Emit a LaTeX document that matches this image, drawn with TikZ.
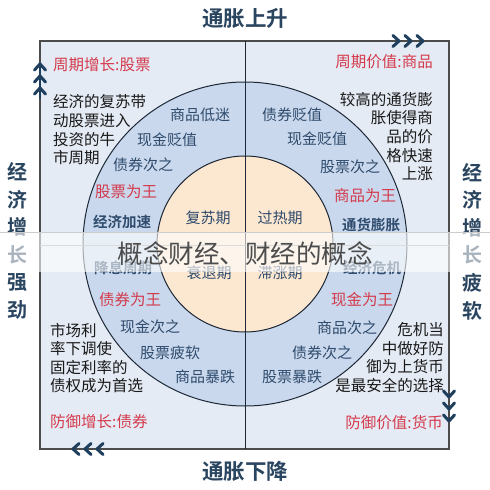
\documentclass[tikz,border=0pt]{standalone}
\usepackage{fontspec}
\setmainfont{Noto Sans CJK SC}[BoldFont={Noto Sans CJK SC Bold}]
\definecolor{framebg}{HTML}{E5EBF4}
\definecolor{ringbg}{HTML}{C9D8EC}
\definecolor{corebg}{HTML}{FCE7D0}
\definecolor{darkline}{HTML}{1C2836}
\definecolor{redtxt}{HTML}{D43A4C}
\definecolor{bluetxt}{HTML}{2F4B6D}
\definecolor{titletxt}{HTML}{2A4560}
\definecolor{chev}{HTML}{1F3F5E}
\tikzset{
  ringtxt/.style={inner sep=0pt, text=bluetxt, font=\fontsize{15}{16}\selectfont},
  boldtxt/.style={inner sep=0pt, text=bluetxt, font=\bfseries\fontsize{14.5}{16}\selectfont},
  redlbl/.style={inner sep=0pt, text=redtxt, font=\fontsize{15.5}{16}\selectfont},
  bodytxt/.style={inner sep=0pt, text=black!90, font=\fontsize{15.5}{18.6}\selectfont},
  titlelbl/.style={inner sep=0pt, text=titletxt, font=\bfseries\fontsize{21.5}{22}\selectfont},
  sidelbl/.style={inner sep=0pt, text=titletxt, align=center, font=\bfseries\fontsize{20}{27.6}\selectfont},
  chevline/.style={draw=chev, line width=3pt, line cap=round, line join=round},
}
\begin{document}
\begin{tikzpicture}[x=1pt,y=-1pt]
\useasboundingbox (0,0) rectangle (490,490);
\fill[white] (0,0) rectangle (490,490);
% frame
\draw[fill=framebg, draw=black!70, line width=1.2pt] (40,41) rectangle (449,449);
% circles
\coordinate (c) at (245,244);
\fill[ringbg] (c) circle[radius=162];
\fill[corebg] (c) circle[radius=88];
\draw[darkline, line width=1pt] (c) circle[radius=162];
\draw[darkline, line width=1pt] (c) circle[radius=88];
% dividers
\coordinate (vt) at (245,41);
\coordinate (vb) at (245,449);
\coordinate (hl) at (40,245);
\coordinate (hr) at (449,245);
\draw[darkline, line width=0.9pt] (vt) -- (vb);
\draw[black!35, line width=0.6pt] (hl) -- (hr);

% titles
\node[titlelbl] (top) at (245,18) {通胀上升};
\node[titlelbl] (bot) at (245,471) {通胀下降};
\node[sidelbl] (left) at (17,241) {经\\济\\增\\长\\强\\劲};
\node[sidelbl] (right) at (472,241.5) {经\\济\\增\\长\\疲\\软};

% top-left quadrant
\node[redlbl, anchor=west] (tlred) at (53,65) {周期增长:股票};
\node[bodytxt, anchor=west, align=left] (tlbody) at (53,130) {经济的复苏带\\动股票进入\\投资的牛\\市周期};
\node[ringtxt] (tl1) at (200,115) {商品低迷};
\node[ringtxt] (tl2) at (167,140) {现金贬值};
\node[ringtxt] (tl3) at (143,165) {债券次之};
\node[redlbl] (tl4) at (126,192) {股票为王};
\node[boldtxt] (tl5) at (122,222) {经济加速};
\node[ringtxt] (tlc) at (208,218) {复苏期};

% top-right quadrant
\node[redlbl, anchor=east] (trred) at (433,62) {周期价值:商品};
\node[bodytxt, anchor=east, align=right] (trbody) at (433,136.5) {较高的通货膨\\胀使得商\\品的价\\格快速\\上涨};
\node[ringtxt] (tr1) at (292,115) {债券贬值};
\node[ringtxt] (tr2) at (317,139) {现金贬值};
\node[ringtxt] (tr3) at (350,167) {股票次之};
\node[redlbl] (tr4) at (365,196) {商品为王};
\node[boldtxt] (tr5) at (371,225) {通货膨胀};
\node[ringtxt] (trc) at (280,218) {过热期};

% bottom-left quadrant
\node[boldtxt] (bl5) at (123,268) {降息周期};
\node[ringtxt] (blc) at (209,273) {衰退期};
\node[redlbl] (bl4) at (130,300) {债券为王};
\node[ringtxt] (bl3) at (150,327) {现金次之};
\node[ringtxt] (bl2) at (170,353) {股票疲软};
\node[ringtxt] (bl1) at (205,377) {商品暴跌};
\node[bodytxt, anchor=west, align=left] (blbody) at (50,358) {市场利\\率下调使\\固定利率的\\债权成为首选};
\node[redlbl, anchor=west] (blred) at (50,422) {防御增长:债券};

% bottom-right quadrant
\node[boldtxt] (br5) at (372,268) {经济危机};
\node[ringtxt] (brc) at (280,273) {滞涨期};
\node[redlbl] (br4) at (362,300) {现金为王};
\node[ringtxt] (br3) at (347,328) {商品次之};
\node[ringtxt] (br2) at (322,353) {债券次之};
\node[ringtxt] (br1) at (292,377) {股票暴跌};
\node[bodytxt, anchor=east, align=right] (brbody) at (444,357.5) {危机当\\中做好防\\御为上货币\\是最安全的选择};
\node[redlbl, anchor=east] (brred) at (443,423) {防御价值:货币};

% chevrons: up (top-left)
\coordinate (ua) at (40,98);
\coordinate (ub) at (40,64);
\draw[chevline, line width=1.8pt] (ua) -- (ub);
\foreach \yy in {64,76,88} {\draw[chevline] (34.5,\yy+6) -- (40,\yy) -- (45.5,\yy+6);}
% right (top-right)
\foreach \xx in {399,411,423} {\draw[chevline] (\xx-6,35.5) -- (\xx,41) -- (\xx-6,46.5);}
% left (bottom-left)
\foreach \xx in {73,85,97} {\draw[chevline] (\xx+6,443.5) -- (\xx,449) -- (\xx+6,454.5);}
% down (bottom-right)
\foreach \yy in {397,409,421} {\draw[chevline] (443.5,\yy-6) -- (449,\yy) -- (454.5,\yy-6);}

% watermark band
\fill[white, opacity=0.6] (0,232) rectangle (490,272);
\draw[black!20, line width=0.5pt] (0,232) -- (490,232);
\node[inner sep=0pt, text=black!70, font=\fontsize{25.5}{27}\selectfont] (wm) at (245,254) {概念财经、财经的概念};
\end{tikzpicture}
\end{document}
